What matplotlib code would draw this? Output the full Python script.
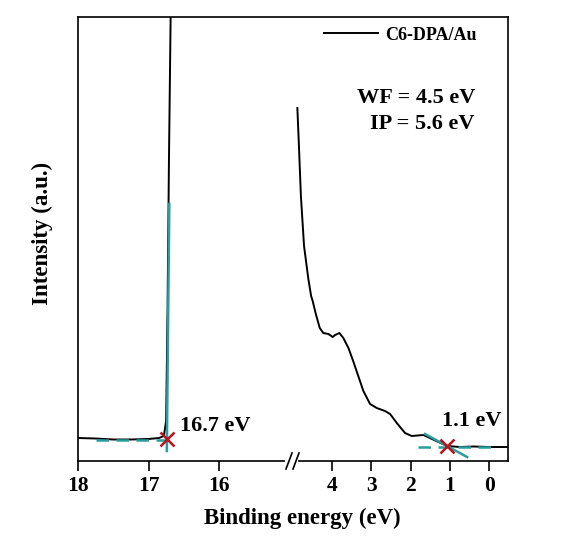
import matplotlib
matplotlib.use("Agg")
import matplotlib.pyplot as plt
from matplotlib.lines import Line2D

# ---------------- data ----------------
# secondary-electron cutoff region (left panel)
cut_x = [18.0, 17.75, 17.5, 17.25, 17.0, 16.85, 16.80, 16.78, 16.75, 16.73, 16.71, 16.68]
cut_y = [23, 22.5, 21.5, 21.5, 22, 23, 24.5, 26, 40, 150, 300, 480]

# valence-band region (right panel)
vb_x = [4.88, 4.84, 4.79, 4.71, 4.60, 4.53, 4.49, 4.41, 4.31, 4.22, 4.09, 3.98,
        3.92, 3.81, 3.71, 3.58, 3.46, 3.33, 3.20, 3.03, 2.86, 2.65, 2.52, 2.35,
        2.14, 1.97, 1.67, 1.40, 1.07, 0.74, 0.40, 0.0, -0.48]
vb_y = [353, 315, 265, 215, 182, 165, 160, 147, 133, 128, 127, 124,
        126, 128, 123, 113, 100, 85, 70, 57, 53, 50, 47, 38,
        28, 25, 26, 21, 15, 14, 14.5, 14, 14]

# linear fits (teal)
fit_cut_base_x = [17.74, 16.74]
fit_cut_base_y = [21, 21]
fit_cut_edge_x = [16.74, 16.705]
fit_cut_edge_y = [10, 257]
fit_vb_base_x = [1.81, -0.23]
fit_vb_base_y = [14, 14]
fit_vb_edge_x = [1.63, 0.56]
fit_vb_edge_y = [27, 4]

# intersections
cut_point = (16.74, 22)
vb_point = (1.07, 15)

left_ticks = [18, 17, 16]
right_ticks = [4, 3, 2, 1, 0]

series_label = "C6-DPA/Au"
wf_text = "WF = 4.5 eV"
ip_text = "IP = 5.6 eV"
cut_label = "16.7 eV"
vb_label = "1.1 eV"

# ---------------- style ----------------
W, H = 565, 538
serif = ["Liberation Serif", "DejaVu Serif"]
plt.rcParams["font.family"] = serif
plt.rcParams["font.weight"] = "bold"
teal = "#2a9d9d"
red = "#b8121c"

fig = plt.figure(figsize=(W / 100, H / 100), dpi=100)

def fx(px):
    return px / W

def fy(py):
    return (H - py) / H

left_px, split_px, right_px = 78, 289.5, 508
top_px, bot_px = 17, 461

ax1 = fig.add_axes([fx(left_px), fy(bot_px), fx(split_px + 1.5 - left_px), (bot_px - top_px) / H])
ax2 = fig.add_axes([fx(split_px), fy(bot_px), fx(right_px - split_px), (bot_px - top_px) / H])
ax2.patch.set_visible(False)

for ax in (ax1, ax2):
    ax.set_ylim(0, 444)
    ax.set_yticks([])
    for s in ax.spines.values():
        s.set_linewidth(1.2)
    ax.spines["top"].set_visible(False)
    ax.tick_params(axis="x", direction="out", length=7, width=1.2, labelsize=15.5, pad=4)

ax1.set_xlim(18, 18 - (split_px + 1.5 - left_px) / 70.5)
ax2.set_xlim(5.08, -0.48)
ax1.spines["right"].set_visible(False)
ax2.spines["left"].set_visible(False)
ax1.set_xticks(left_ticks)
ax2.set_xticks(right_ticks)
ax1.set_xticklabels([str(t) for t in left_ticks], fontweight="bold")
ax2.set_xticklabels([str(t) for t in right_ticks], fontweight="bold")

# continuous top frame line across both panels
fig.add_artist(Line2D([fx(left_px), fx(right_px)], [fy(top_px), fy(top_px)],
                      color="black", lw=1.2, solid_capstyle="projecting",
                      transform=fig.transFigure))

# curves
ax1.plot(cut_x, cut_y, color="black", lw=1.4)
ax2.plot(vb_x, vb_y, color="black", lw=1.4)

# fits
ax1.plot(fit_cut_base_x, fit_cut_base_y, color=teal, lw=1.8, ls=(0, (5, 3)))
ax1.plot(fit_cut_edge_x, fit_cut_edge_y, color=teal, lw=1.8)
ax2.plot(fit_vb_base_x, fit_vb_base_y, color=teal, lw=1.8, ls=(0, (5, 3)))
ax2.plot(fit_vb_edge_x, fit_vb_edge_y, color=teal, lw=1.8)

# intersection markers
ax1.plot([cut_point[0]], [cut_point[1]], marker="x", color=red, ms=10, mew=1.8, ls="none")
ax2.plot([vb_point[0]], [vb_point[1]], marker="x", color=red, ms=10, mew=1.8, ls="none")

# annotations
ax1.text(16.56, 35, cut_label, fontsize=16, fontweight="bold", ha="left", va="center")
ax2.text(0.43, 40, vb_label, fontsize=16, fontweight="bold", ha="center", va="center")
ax2.text(0.36, 363, wf_text, fontsize=16, fontweight="bold", ha="right", va="center")
ax2.text(0.36, 337, ip_text, fontsize=16, fontweight="bold", ha="right", va="center")

# legend
handle = Line2D([], [], color="black", lw=1.4)
ax2.legend([handle], [series_label], loc="upper right", bbox_to_anchor=(0.93, 1.015),
           frameon=False, handlelength=3.0, handletextpad=0.4,
           prop={"family": serif, "weight": "bold", "size": 13})

# axis labels
fig.text(fx(302), fy(518), "Binding energy (eV)", fontsize=16.5, fontweight="bold",
         ha="center", va="center")
fig.text(fx(42), fy(233), "Intensity (a.u.)", fontsize=16.5, fontweight="bold",
         ha="center", va="center", rotation=90)

# axis break marks
fig.add_artist(Line2D([fx(287), fx(296)], [fy(bot_px), fy(bot_px)], color="white", lw=3,
                      transform=fig.transFigure))
for cx in (289, 296):
    fig.add_artist(Line2D([fx(cx - 3), fx(cx + 3)], [fy(bot_px + 8), fy(bot_px - 8)],
                          color="black", lw=1.2, transform=fig.transFigure))

fig.savefig("out.png", dpi=100)
